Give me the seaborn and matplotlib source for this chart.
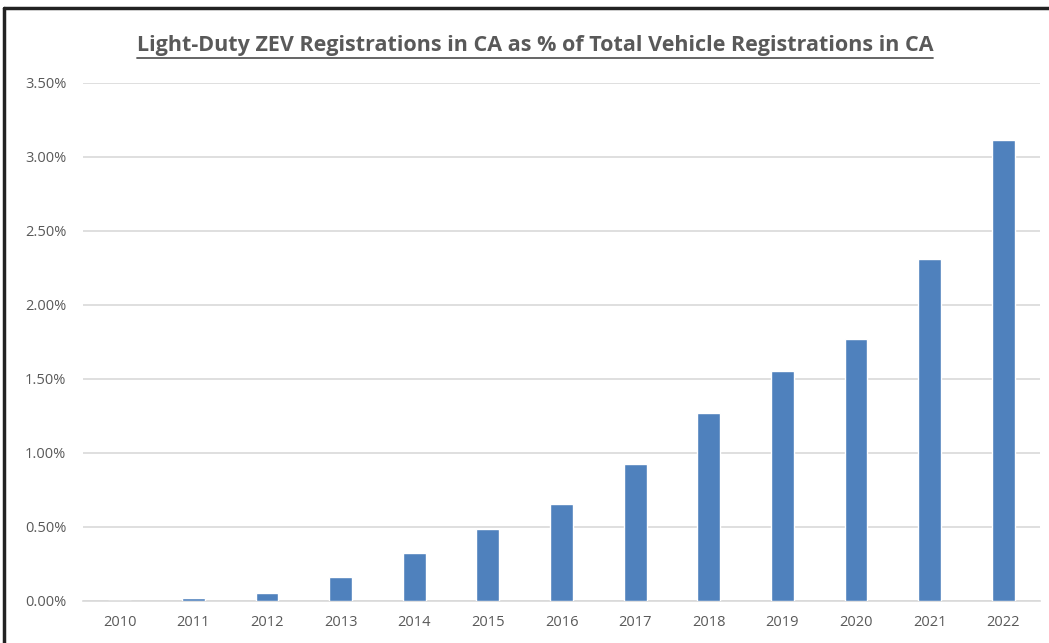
#!/usr/bin/env python3
"""Light-duty ZEV registrations in CA as share of all vehicle registrations."""

import matplotlib as mpl
import matplotlib.pyplot as plt
import pandas as pd
import seaborn as sns
from matplotlib.lines import Line2D
from matplotlib.ticker import FuncFormatter

mpl.use('Agg')

YEARS = ["2010", "2011", "2012", "2013", "2014", "2015", "2016",
         "2017", "2018", "2019", "2020", "2021", "2022"]
ZEV_SHARE = [0.0, 0.02, 0.054, 0.163, 0.326, 0.489, 0.653,
             0.923, 1.272, 1.553, 1.773, 2.311, 3.117]  # percent
Y_TICKS = [0.0, 0.5, 1.0, 1.5, 2.0, 2.5, 3.0, 3.5]
TITLE = "Light-Duty ZEV Registrations in CA as % of Total Vehicle Registrations in CA"

BAR_COLOR = "#4F81BD"
TEXT_COLOR = "#595959"
GRID_COLOR = "#D9D9D9"

sns.set_theme(style="white")
plt.rcParams["font.family"] = ["Open Sans", "DejaVu Sans"]


def main():
    df = pd.DataFrame({"year": YEARS, "share": ZEV_SHARE})

    fig = plt.figure(figsize=(10.49, 6.43), dpi=100)
    ax = fig.add_axes([83 / 1049, 1 - 601 / 643, (1040 - 83) / 1049,
                       (601 - 83) / 643])
    sns.barplot(data=df, x="year", y="share", color=BAR_COLOR, width=0.31,
                saturation=1, ax=ax, zorder=3)

    ax.set_ylim(0, 3.5)
    ax.set_xlim(-0.5, len(YEARS) - 0.5)
    ax.set_yticks(Y_TICKS)
    ax.yaxis.set_major_formatter(FuncFormatter(lambda v, _: f"{v:.2f}%"))
    ax.grid(axis="y", color=GRID_COLOR, linewidth=1.2, zorder=0)
    ax.set_axisbelow(True)
    for side in ["top", "right", "left"]:
        ax.spines[side].set_visible(False)
    ax.spines["bottom"].set_color(GRID_COLOR)
    ax.spines["bottom"].set_linewidth(1.2)
    ax.tick_params(axis="both", length=0, labelsize=10.5, colors=TEXT_COLOR)
    ax.tick_params(axis="y", pad=12)
    ax.tick_params(axis="x", pad=10)
    ax.set_xlabel("")
    ax.set_ylabel("")

    # Title with underline, Excel style
    title = fig.text(0.51, 1 - 45 / 643, TITLE, ha="center", va="center",
                     fontsize=15.5, fontweight="bold", color=TEXT_COLOR)
    fig.canvas.draw()
    bb = title.get_window_extent().transformed(fig.transFigure.inverted())
    fig.add_artist(Line2D([bb.x0, bb.x1], [bb.y0 - 0.004, bb.y0 - 0.004],
                          color=TEXT_COLOR, linewidth=1.3,
                          transform=fig.transFigure))

    # Frame of the pasted chart (left and top edges)
    fig.add_artist(Line2D([4 / 1049, 4 / 1049], [0, 1 - 8 / 643],
                          color="#222222", linewidth=2.5,
                          transform=fig.transFigure))
    fig.add_artist(Line2D([4 / 1049, 1], [1 - 8 / 643, 1 - 8 / 643],
                          color="#222222", linewidth=2.5,
                          transform=fig.transFigure))

    fig.savefig("out.png", dpi=100)


if __name__ == '__main__':
    main()
